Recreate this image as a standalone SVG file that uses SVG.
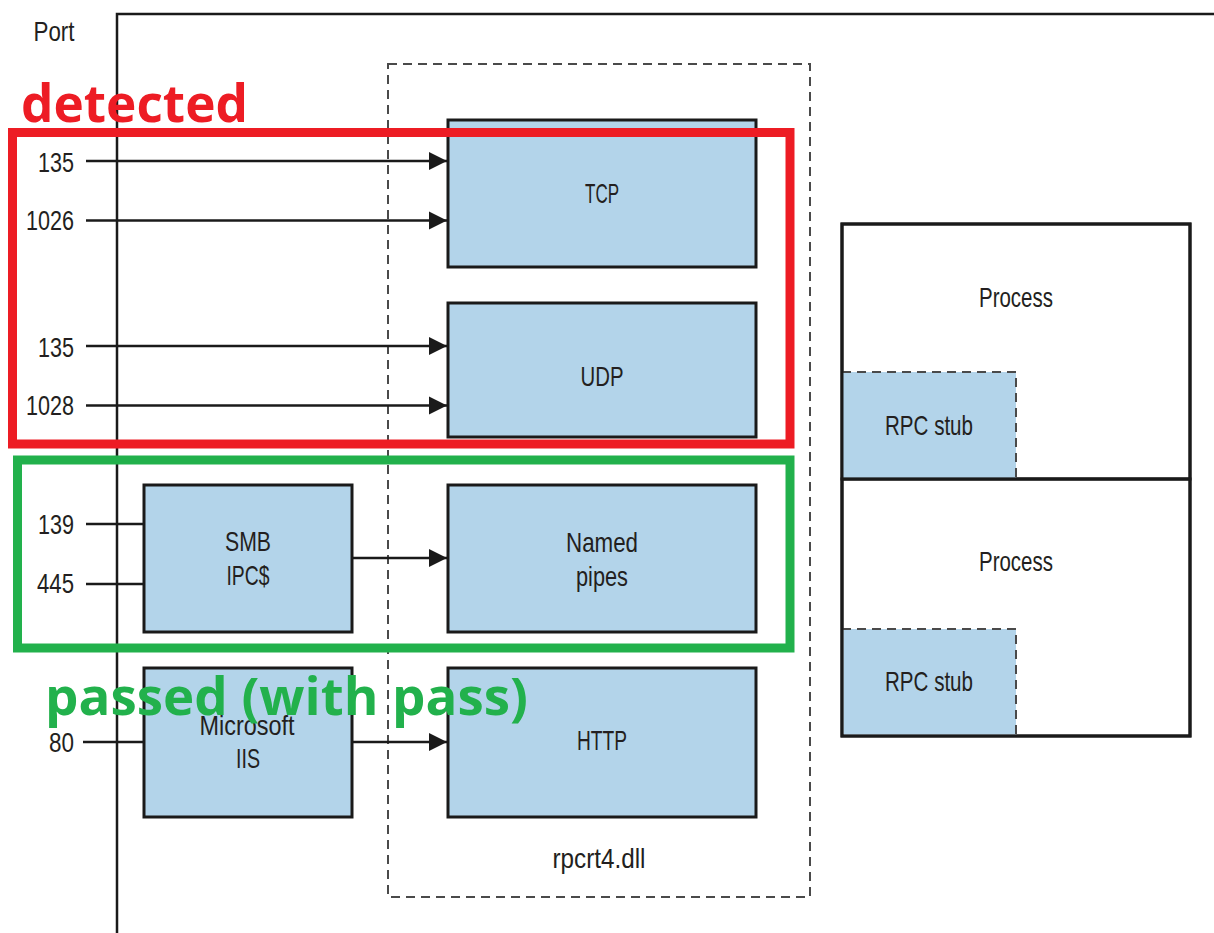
<svg xmlns="http://www.w3.org/2000/svg" width="1214" height="933" viewBox="0 0 1214 933">
<style>
.t{font-family:"Liberation Sans",Arial,sans-serif;font-size:28px;fill:#231f20;text-anchor:middle}
.r{text-anchor:end}
.box{fill:#b3d4ea;stroke:#1a1a1a;stroke-width:3}
.ln{stroke:#1a1a1a;stroke-width:2.5;fill:none}
.dash{fill:none;stroke:#4a4a4a;stroke-width:2;stroke-dasharray:9 6}
.big{font-family:"Open Sans","DejaVu Sans",sans-serif;font-weight:bold;font-size:52px}
</style>
<defs>
<marker id="ah" markerUnits="userSpaceOnUse" markerWidth="20" markerHeight="20" refX="18" refY="10" orient="auto">
<path d="M0,1 L18,10 L0,19 z" fill="#1a1a1a"/>
</marker>
</defs>
<rect width="1214" height="933" fill="#fff"/>
<g id="frame">
<path d="M117,933 V14 H1214" class="ln" stroke-width="3"/>
<text class="t" x="54" y="41" textLength="41" lengthAdjust="spacingAndGlyphs">Port</text>
</g>
<g id="rpcrt4">
<rect x="388" y="64" width="422" height="833" class="dash"/>
<text class="t" x="599" y="868" textLength="93" lengthAdjust="spacingAndGlyphs">rpcrt4.dll</text>
</g>
<g id="tcp"><rect class="box" x="448" y="120" width="308" height="147"/><text class="t" x="602" y="203" textLength="34" lengthAdjust="spacingAndGlyphs">TCP</text></g>
<g id="udp"><rect class="box" x="448" y="303" width="308" height="134"/><text class="t" x="602" y="386" textLength="43" lengthAdjust="spacingAndGlyphs">UDP</text></g>
<g id="namedpipes"><rect class="box" x="448" y="485" width="308" height="147"/><text class="t" x="602" y="552" textLength="72" lengthAdjust="spacingAndGlyphs">Named</text><text class="t" x="602" y="586" textLength="52" lengthAdjust="spacingAndGlyphs">pipes</text></g>
<g id="http"><rect class="box" x="448" y="668" width="308" height="149"/><text class="t" x="602" y="750" textLength="50" lengthAdjust="spacingAndGlyphs">HTTP</text></g>
<g id="smb"><rect class="box" x="144" y="485" width="208" height="147"/><text class="t" x="248" y="551" textLength="46" lengthAdjust="spacingAndGlyphs">SMB</text><text class="t" x="248" y="585" textLength="43" lengthAdjust="spacingAndGlyphs">IPC$</text></g>
<g id="iis"><rect class="box" x="144" y="668" width="208" height="149"/><text class="t" x="247" y="735" textLength="95" lengthAdjust="spacingAndGlyphs">Microsoft</text><text class="t" x="248" y="768" textLength="24" lengthAdjust="spacingAndGlyphs">IIS</text></g>
<g id="process1">
<rect x="842" y="224" width="348" height="255" fill="#fff" stroke="#1a1a1a" stroke-width="3"/>
<text class="t" x="1016" y="307" textLength="74" lengthAdjust="spacingAndGlyphs">Process</text>
</g>
<g id="rpcstub1">
<rect x="842" y="372" width="174" height="107" fill="#b3d4ea"/>
<path d="M842,372 H1016 V479" class="dash"/>
<text class="t" x="929" y="435" textLength="88" lengthAdjust="spacingAndGlyphs">RPC stub</text>
</g>
<g id="process2">
<rect x="842" y="479" width="348" height="257" fill="none" stroke="#1a1a1a" stroke-width="3"/>
<text class="t" x="1016" y="571" textLength="74" lengthAdjust="spacingAndGlyphs">Process</text>
</g>
<g id="rpcstub2">
<rect x="843.5" y="629" width="172.5" height="105.5" fill="#b3d4ea"/>
<path d="M842,629 H1016 V735" class="dash"/>
<text class="t" x="929" y="691" textLength="88" lengthAdjust="spacingAndGlyphs">RPC stub</text>
</g>
<rect x="842" y="224" width="348" height="512" fill="none" stroke="#1a1a1a" stroke-width="3"/>
<line x1="842" y1="479" x2="1190" y2="479" class="ln" stroke-width="3"/>
<g id="ports">
<text class="t r" x="74" y="172" textLength="36" lengthAdjust="spacingAndGlyphs">135</text>
<text class="t r" x="74" y="230" textLength="48" lengthAdjust="spacingAndGlyphs">1026</text>
<text class="t r" x="74" y="357" textLength="36" lengthAdjust="spacingAndGlyphs">135</text>
<text class="t r" x="74" y="415" textLength="48" lengthAdjust="spacingAndGlyphs">1028</text>
<text class="t r" x="74" y="534" textLength="36" lengthAdjust="spacingAndGlyphs">139</text>
<text class="t r" x="74" y="593" textLength="37" lengthAdjust="spacingAndGlyphs">445</text>
<text class="t r" x="74" y="752" textLength="25" lengthAdjust="spacingAndGlyphs">80</text>
</g>
<g id="connectors">
<line class="ln" x1="86" y1="161" x2="447" y2="161" marker-end="url(#ah)"/>
<line class="ln" x1="86" y1="220.5" x2="447" y2="220.5" marker-end="url(#ah)"/>
<line class="ln" x1="86" y1="346" x2="447" y2="346" marker-end="url(#ah)"/>
<line class="ln" x1="86" y1="405.5" x2="447" y2="405.5" marker-end="url(#ah)"/>
<line class="ln" x1="86" y1="524" x2="144" y2="524"/>
<line class="ln" x1="86" y1="584" x2="144" y2="584"/>
<line class="ln" x1="352" y1="558" x2="447" y2="558" marker-end="url(#ah)"/>
<line class="ln" x1="83" y1="742" x2="144" y2="742"/>
<line class="ln" x1="352" y1="742" x2="447" y2="742" marker-end="url(#ah)"/>
</g>
<g id="detected">
<rect x="12.5" y="132.5" width="777.5" height="311.5" fill="none" stroke="#ed1c24" stroke-width="9"/>
<text class="big" x="21" y="122" fill="#ed1c24" textLength="227" lengthAdjust="spacingAndGlyphs">detected</text>
</g>
<g id="passed">
<rect x="17.5" y="460" width="772.5" height="188" fill="none" stroke="#22b14c" stroke-width="9"/>
<text class="big" x="45" y="715" fill="#22b14c" textLength="483" lengthAdjust="spacingAndGlyphs">passed (with pass)</text>
</g>
</svg>
